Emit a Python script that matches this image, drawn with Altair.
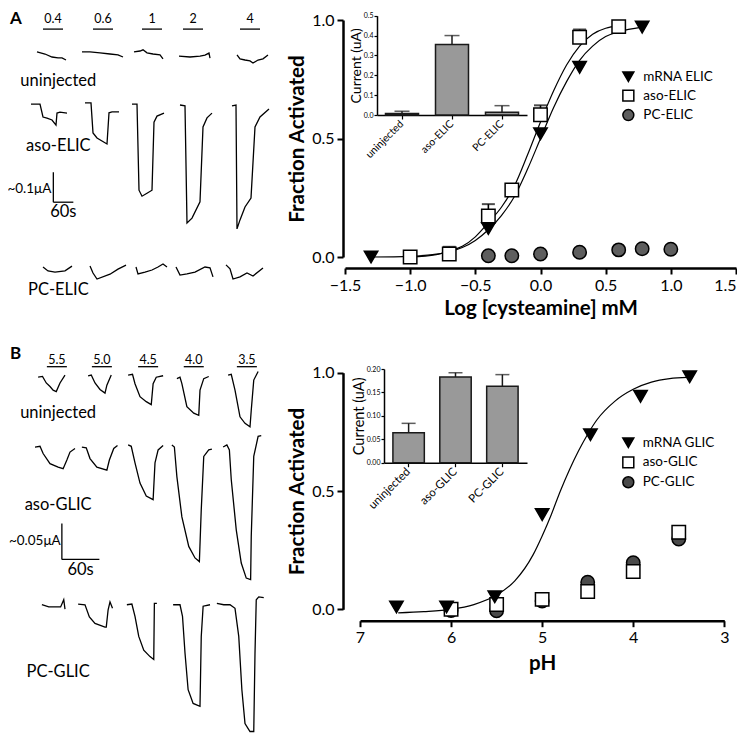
import altair as alt
import pandas as pd

# ---------------- layout (page pixels of the reference -> view pixels) ----------------
W, H = 729, 727
def X(p):
    return p - 8
def Y(p):
    return p - 8

FONT = "Lato"

# ---------------- Panel A : dose response ----------------
elic_series = ["mRNA ELIC", "aso-ELIC", "PC-ELIC"]
elic_mrna_x = [-1.3, -0.4, 0.0, 0.3, 0.78]
elic_mrna_y = [0.0, 0.12, 0.52, 0.80, 0.97]
elic_aso_x = [-1.0, -0.7, -0.4, -0.22, 0.0, 0.3, 0.6]
elic_aso_y = [0.0, 0.013, 0.173, 0.283, 0.60, 0.927, 0.972]
elic_aso_err = [0.0, 0.03, 0.05, 0.0, 0.04, 0.033, 0.018]
elic_pc_x = [-0.4, -0.22, 0.0, 0.3, 0.6, 0.78, 1.0]
elic_pc_y = [0.005, 0.005, 0.013, 0.02, 0.03, 0.035, 0.033]
elic_mrna_fit_x = [-1.3, -1.0, -0.8, -0.7, -0.6, -0.5, -0.4, -0.3, -0.2, -0.1, 0.0, 0.1, 0.2, 0.3, 0.4, 0.5, 0.6, 0.78]
elic_mrna_fit_y = [0.0, 0.003, 0.012, 0.022, 0.04, 0.07, 0.115, 0.175, 0.255, 0.37, 0.50, 0.63, 0.74, 0.83, 0.89, 0.93, 0.95, 0.97]
elic_aso_fit_x = [-1.0, -0.8, -0.7, -0.6, -0.5, -0.4, -0.3, -0.2, -0.1, 0.0, 0.1, 0.2, 0.3, 0.4, 0.5, 0.6]
elic_aso_fit_y = [0.0, 0.01, 0.025, 0.045, 0.085, 0.145, 0.21, 0.30, 0.43, 0.57, 0.70, 0.81, 0.89, 0.94, 0.965, 0.975]
# legend anchor (x of symbols / labels, y of the three rows) in panel-A data units
elic_leg_x = [0.674, 0.789]
elic_leg_y = [0.761, 0.681, 0.599]

# inset A
insA_cats = ["uninjected", "aso-ELIC", "PC-ELIC"]
insA_mean = [0.008, 0.355, 0.014]
insA_top = [0.019, 0.40, 0.047]

# ---------------- Panel B : pH response ----------------
glic_series = ["mRNA GLIC", "aso-GLIC", "PC-GLIC"]
glic_mrna_x = [6.6, 6.05, 5.52, 5.0, 4.47, 3.92, 3.38]
glic_mrna_y = [0.01, 0.01, 0.053, 0.40, 0.738, 0.90, 0.983]
glic_aso_x = [6.0, 5.5, 5.0, 4.5, 4.0, 3.5]
glic_aso_y = [0.0, 0.02, 0.042, 0.075, 0.16, 0.326]
glic_pc_x = [6.0, 5.5, 5.0, 4.5, 4.0, 3.5]
glic_pc_y = [-0.005, -0.006, 0.035, 0.114, 0.197, 0.297]
glic_fit_x = [6.58, 6.3, 6.0, 5.75, 5.5, 5.3, 5.1, 5.0, 4.9, 4.8, 4.7, 4.6, 4.5, 4.4, 4.2, 4.0, 3.8, 3.6, 3.4]
glic_fit_y = [-0.015, -0.01, 0.0, 0.02, 0.06, 0.12, 0.23, 0.31, 0.40, 0.50, 0.59, 0.67, 0.74, 0.80, 0.88, 0.93, 0.96, 0.975, 0.98]
glic_leg_x = [4.054, 3.896]
glic_leg_y = [0.704, 0.621, 0.537]

insB_cats = ["uninjected", "aso-GLIC", "PC-GLIC"]
insB_mean = [0.064, 0.183, 0.163]
insB_top = [0.084, 0.192, 0.188]

# ---------------- current traces, panel A (s from trace start, uA from baseline) ----------------
A_conc = ["0.4", "0.6", "1", "2", "4"]
A_rows = ["uninjected", "aso-ELIC", "PC-ELIC"]
a_unin_t = [[0, 24, 45, 63, 75, 87], [0, 24, 54, 84, 108, 123], [0, 18, 27, 39, 57, 78, 87],
            [0, 33, 63, 78, 90, 93], [0, 9, 24, 39, 48, 63, 78, 93]]
a_unin_i = [[0, -0.007, -0.017, -0.02, -0.02, -0.027], [0, 0, -0.003, -0.007, -0.01, -0.017],
            [0, 0.003, 0.007, -0.003, -0.007, -0.01, -0.023], [0, -0.003, 0, 0.003, 0.01, -0.007],
            [0, -0.013, -0.017, -0.02, -0.027, -0.017, -0.013, 0]]
a_aso_t = [[0, 27, 36, 48, 63, 75, 78, 87, 108], [0, 18, 24, 36, 66, 72, 81, 102],
           [0, 15, 21, 30, 45, 60, 66, 75, 96], [0, 15, 21, 36, 60, 69, 81, 96],
           [0, 12, 15, 24, 39, 57, 69, 84, 111]]
a_aso_i = [[0, 0, -0.043, -0.047, -0.053, -0.07, -0.03, -0.027, -0.03],
           [0, 0, -0.1, -0.117, -0.137, -0.033, -0.03, -0.03],
           [0, 0, -0.287, -0.307, -0.297, -0.287, -0.06, -0.04, -0.03],
           [0, -0.003, -0.393, -0.377, -0.323, -0.073, -0.043, -0.027],
           [0, 0.003, -0.41, -0.38, -0.337, -0.307, -0.07, -0.037, -0.01]]
a_pc_t = [[0, 15, 36, 66, 87], [0, 9, 21, 60, 84, 108], [0, 6, 27, 48, 66, 81, 93],
          [0, 12, 33, 57, 87, 102, 111], [0, 12, 21, 42, 63, 81, 111]]
a_pc_i = [[0, -0.013, -0.017, -0.013, 0.003], [0, -0.023, -0.043, -0.027, -0.01, 0.003],
          [0, -0.023, -0.017, -0.01, 0, 0.01, 0], [0, -0.027, -0.023, -0.017, 0, -0.003, -0.033],
          [0, -0.013, -0.047, -0.04, -0.027, -0.037, -0.01]]
a_start = [[111, 246, 402, 537, 711], [93, 255, 396, 540, 696], [129, 270, 408, 528, 678]]
a_base = [[-0.173, -0.173, -0.173, -0.187, -0.183], [-0.347, -0.343, -0.347, -0.35, -0.353],
          [-0.89, -0.887, -0.89, -0.89, -0.883]]
a_bar_start = [129, 279, 426, 549, 720]

# ---------------- current traces, panel B ----------------
B_conc = ["5.5", "5.0", "4.5", "4.0", "3.5"]
B_rows = ["uninjected", "aso-GLIC", "PC-GLIC"]
b_unin_t = [[0, 7, 13, 19, 24, 29, 35, 43], [0, 5, 11, 19, 27, 30, 37], [0, 7, 11, 19, 29, 37, 40, 45, 56],
            [0, 5, 8, 16, 27, 35, 37, 43, 51], [0, 5, 11, 19, 27, 35, 37, 41, 48]]
b_unin_i = [[0, 0.001, -0.008, -0.013, -0.018, -0.02, -0.008, 0.003],
            [0, 0.001, -0.01, -0.019, -0.024, -0.013, 0.001],
            [0, 0.001, -0.012, -0.03, -0.037, -0.041, -0.012, -0.003, -0.001],
            [0, 0.002, -0.007, -0.039, -0.048, -0.051, -0.016, 0, 0.003],
            [0, 0.001, -0.021, -0.058, -0.067, -0.072, -0.049, -0.007, 0.005]]
b_aso_t = [[0, 8, 13, 24, 37, 45, 51, 56, 64], [0, 7, 13, 24, 40, 44, 51, 57], [0, 5, 11, 19, 29, 40, 43, 48, 56],
           [0, 4, 8, 16, 27, 37, 44, 47, 51, 59, 64], [0, 6, 10, 13, 21, 29, 37, 44, 45, 49, 56, 61]]
b_aso_i = [[0, 0.001, -0.009, -0.023, -0.028, -0.03, -0.018, -0.007, -0.002],
           [0, -0.001, -0.016, -0.028, -0.032, -0.018, -0.002, 0.002],
           [0, -0.002, -0.025, -0.053, -0.071, -0.076, -0.025, -0.007, -0.001],
           [0, -0.003, -0.044, -0.1, -0.141, -0.157, -0.162, -0.09, -0.016, -0.007, -0.006],
           [0, 0.003, -0.004, -0.045, -0.115, -0.161, -0.182, -0.184, -0.124, -0.013, 0.015, 0.016]]
b_pc_t = [[0, 11, 24, 30, 35, 37], [0, 11, 18, 27, 43, 45, 48, 51, 55], [0, 8, 13, 19, 27, 37, 43, 44, 48],
          [0, 11, 15, 19, 24, 32, 43, 45, 48, 59], [0, 11, 21, 29, 35, 40, 45, 53, 59, 61, 63, 67, 75]]
b_pc_i = [[0, -0.003, -0.003, -0.003, 0.007, -0.006],
          [0, -0.001, -0.018, -0.027, -0.032, -0.032, -0.008, 0.003, -0.006],
          [0, 0.001, -0.016, -0.044, -0.063, -0.072, -0.076, 0.002, 0.002],
          [0, 0, -0.016, -0.067, -0.118, -0.137, -0.141, -0.044, -0.002, 0],
          [0, -0.002, -0.002, -0.007, -0.046, -0.12, -0.167, -0.178, -0.178, -0.069, 0.005, 0.009, 0.008]]
b_start = [[61, 141, 205, 283, 365], [56, 131, 205, 275, 357], [67, 125, 203, 277, 347]]
b_base = [[-0.010, -0.008, -0.007, -0.012, -0.007], [-0.107, -0.107, -0.104, -0.104, -0.107],
          [-0.326, -0.325, -0.326, -0.326, -0.324]]
b_bar_start = [75, 147, 221, 294, 379]


def trace_frame(rows, concs, tl, il, starts, bases):
    recs = []
    for r in range(3):
        for c in range(5):
            for k, (t, i) in enumerate(zip(tl[r][c], il[r][c])):
                recs.append({"trace": f"{rows[r]} {concs[c]}", "k": k,
                             "t": starts[r][c] + t, "I": bases[r][c] + i})
    return pd.DataFrame(recs)


def trace_panel(df, sx, sy, conc, bar_start, bar_len, bar_y, lab_y, labels, scalebar, letter):
    enc_x = lambda f: alt.X(f, scale=sx, axis=None)
    enc_y = lambda f: alt.Y(f, scale=sy, axis=None)
    lines = alt.Chart(df).mark_line(color="black", strokeWidth=1.3).encode(
        x=enc_x("t:Q"), y=enc_y("I:Q"), detail="trace:N", order="k:Q")
    bars_df = pd.DataFrame({"t0": bar_start, "t1": [b + bar_len for b in bar_start],
                            "tc": [b + bar_len / 2 for b in bar_start],
                            "y": [bar_y] * 5, "ly": [lab_y] * 5, "lab": conc})
    bars = alt.Chart(bars_df).mark_rule(color="black", strokeWidth=1.3).encode(
        x=enc_x("t0:Q"), x2="t1:Q", y=enc_y("y:Q"))
    blabs = alt.Chart(bars_df).mark_text(font=FONT, fontSize=12.5, baseline="middle").encode(
        x=enc_x("tc:Q"), y=enc_y("ly:Q"), text="lab:N")
    lab_df = pd.DataFrame(labels)
    labs_c = alt.Chart(lab_df[lab_df["al"] == "center"]).mark_text(
        font=FONT, fontSize=16.5, baseline="middle", align="center").encode(
        x=enc_x("t:Q"), y=enc_y("I:Q"), text="txt:N")
    labs_r = alt.Chart(lab_df[lab_df["al"] == "right"]).mark_text(
        font=FONT, fontSize=13.5, baseline="middle", align="right").encode(
        x=enc_x("t:Q"), y=enc_y("I:Q"), text="txt:N")
    (sx0, sy0, sdt, sdi) = scalebar
    sb_v = alt.Chart(pd.DataFrame({"t": [sx0], "a": [sy0], "b": [sy0 - sdi]})).mark_rule(
        color="black", strokeWidth=1.3).encode(x=enc_x("t:Q"), y=enc_y("a:Q"), y2="b:Q")
    sb_h = alt.Chart(pd.DataFrame({"a": [sx0], "b": [sx0 + sdt], "I": [sy0 - sdi]})).mark_rule(
        color="black", strokeWidth=1.3).encode(x=enc_x("a:Q"), x2="b:Q", y=enc_y("I:Q"))
    let = alt.Chart(pd.DataFrame(letter)).mark_text(
        font=FONT, fontSize=17, fontWeight="bold", align="left", baseline="middle").encode(
        x=enc_x("t:Q"), y=enc_y("I:Q"), text="txt:N")
    return alt.layer(lines, bars, blabs, labs_c, labs_r, sb_v, sb_h, let)


# ---- traces A
sA_tx = alt.Scale(domain=[0, 870], range=[X(0), X(290)], nice=False, zero=False)
sA_ty = alt.Scale(domain=[-1.1, 0.0], range=[Y(330), Y(0)], nice=False, zero=False)
tracesA = trace_panel(
    trace_frame(A_rows, A_conc, [a_unin_t, a_aso_t, a_pc_t], [a_unin_i, a_aso_i, a_pc_i], a_start, a_base),
    sA_tx, sA_ty, A_conc, a_bar_start, 60, -0.097, -0.063,
    {"t": [175, 175, 175, 154, 190], "I": [-0.269, -0.486, -0.967, -0.63, -0.706],
     "txt": ["uninjected", "aso-ELIC", "PC-ELIC", "~0.1\u03bcA", "60s"],
     "al": ["center", "center", "center", "right", "center"]},
    (160, -0.574, 60, 0.1),
    {"t": [30], "I": [-0.062], "txt": ["A"]})

# ---- traces B
sB_tx = alt.Scale(domain=[0, 464], range=[X(0), X(290)], nice=False, zero=False)
sB_ty = alt.Scale(domain=[-0.518, 0.0], range=[Y(743), Y(370)], nice=False, zero=False)
tracesB = trace_panel(
    trace_frame(B_rows, B_conc, [b_unin_t, b_aso_t, b_pc_t], [b_unin_i, b_aso_i, b_pc_i], b_start, b_base),
    sB_tx, sB_ty, B_conc, b_bar_start, 32, 0.0046, 0.014,
    {"t": [93, 93, 93, 97, 129], "I": [-0.060, -0.188, -0.42, -0.238, -0.278],
     "txt": ["uninjected", "aso-GLIC", "PC-GLIC", "~0.05\u03bcA", "60s"],
     "al": ["center", "center", "center", "right", "center"]},
    (99, -0.213, 60, 0.05),
    {"t": [16], "I": [0.022], "txt": ["B"]})


# ---------------- main dose response plots ----------------
def main_plot(series, pts, fits, errs, sx, sy, ax_x, ax_y, fills, leg_x, leg_y):
    px, py, ps = [], [], []
    for name, xs, ys in pts:
        px += xs
        py += ys
        ps += [name] * len(xs)
    pdf = pd.DataFrame({"x": px, "y": py, "series": ps})
    shape_sc = alt.Scale(domain=series, range=["triangle-down", "square", "circle"])
    fill_sc = alt.Scale(domain=series, range=fills)
    layers = []
    for fx, fy in fits:
        layers.append(alt.Chart(pd.DataFrame({"x": fx, "y": fy, "k": list(range(len(fx)))})).mark_line(
            color="black", strokeWidth=1.2, interpolate="monotone").encode(
            x=alt.X("x:Q", scale=sx, axis=ax_x), y=alt.Y("y:Q", scale=sy, axis=ax_y), order="k:Q"))
    if errs is not None:
        ex, ey, ee = errs
        edf = pd.DataFrame({"x": ex, "y": ey, "top": [a + b for a, b in zip(ey, ee)]})
        edf = edf[[e > 0 for e in ee]]
        layers.append(alt.Chart(edf).mark_rule(color="black", strokeWidth=1.6).encode(
            x=alt.X("x:Q", scale=sx, axis=ax_x), y=alt.Y("y:Q", scale=sy, axis=ax_y), y2="top:Q"))
        layers.append(alt.Chart(edf).mark_tick(color="black", orient="horizontal", size=13, thickness=2).encode(
            x=alt.X("x:Q", scale=sx, axis=ax_x), y=alt.Y("top:Q", scale=sy, axis=ax_y)))
    layers.append(alt.Chart(pdf).mark_point(filled=True, size=180, stroke="black", strokeWidth=1.5,
                                            opacity=1).encode(
        x=alt.X("x:Q", scale=sx, axis=ax_x), y=alt.Y("y:Q", scale=sy, axis=ax_y),
        shape=alt.Shape("series:N", scale=shape_sc, legend=None),
        fill=alt.Fill("series:N", scale=fill_sc, legend=None)))
    # legend (symbols + labels) drawn with the same shape / fill scales
    ldf = pd.DataFrame({"series": series, "sx": [leg_x[0]] * 3, "tx": [leg_x[1]] * 3, "y": leg_y})
    layers.append(alt.Chart(ldf).mark_point(filled=True, size=120, stroke="black", strokeWidth=1.5,
                                            opacity=1).encode(
        x=alt.X("sx:Q", scale=sx, axis=ax_x), y=alt.Y("y:Q", scale=sy, axis=ax_y),
        shape=alt.Shape("series:N", scale=shape_sc, legend=None),
        fill=alt.Fill("series:N", scale=fill_sc, legend=None)))
    layers.append(alt.Chart(ldf).mark_text(font=FONT, fontSize=13.5, align="left", baseline="middle",
                                           color="black").encode(
        x=alt.X("tx:Q", scale=sx, axis=ax_x), y=alt.Y("y:Q", scale=sy, axis=ax_y), text="series:N"))
    return alt.layer(*layers)


def big_axis(orient, offset, values, fmt, title, tpad, label_align=None):
    kw = {}
    if label_align is not None:
        kw["labelAlign"] = label_align
    return alt.Axis(orient=orient, offset=offset, values=values, format=fmt, title=title,
                    titleFont=FONT, titleFontSize=20.5, titleFontWeight="bold", titleColor="black",
                    titlePadding=tpad, labelFont=FONT, labelFontSize=16, labelColor="black",
                    labelPadding=3, labelFlush=False, labelOverlap=False, domainColor="black",
                    domainWidth=2.5, tickColor="black", tickWidth=2, tickSize=6, grid=False, **kw)


axA_x = big_axis("bottom", Y(268) - H, [-1.5, -1.0, -0.5, 0.0, 0.5, 1.0, 1.5], ".1f", "Log [cysteamine] mM", 5,
                 {"condition": {"test": "datum.value >= 1.5", "value": "right"}, "value": "center"})
axA_y = big_axis("left", -X(343), [0.0, 0.5, 1.0], ".1f", "Fraction Activated", 4)
sA_x = alt.Scale(domain=[-1.5, 1.5], range=[X(345), X(736)], nice=False, zero=False)
sA_y = alt.Scale(domain=[0, 1], range=[Y(257), Y(20)], nice=False, zero=False)
plotA = main_plot(
    elic_series,
    [("PC-ELIC", elic_pc_x, elic_pc_y), ("aso-ELIC", elic_aso_x, elic_aso_y), ("mRNA ELIC", elic_mrna_x, elic_mrna_y)],
    [(elic_mrna_fit_x, elic_mrna_fit_y), (elic_aso_fit_x, elic_aso_fit_y)],
    (elic_aso_x, elic_aso_y, elic_aso_err), sA_x, sA_y, axA_x, axA_y,
    ["#000000", "#ffffff", "#5e5e5e"], elic_leg_x, elic_leg_y)

axB_x = big_axis("bottom", Y(620.7) - H, [7, 6, 5, 4, 3], "d", "pH", 8)
axB_y = big_axis("left", -X(343), [0.0, 0.5, 1.0], ".1f", "Fraction Activated", 4)
sB_x = alt.Scale(domain=[3, 7], range=[X(724.3), X(360)], nice=False, zero=False)
sB_y = alt.Scale(domain=[0, 1], range=[Y(609.3), Y(372.7)], nice=False, zero=False)
plotB = main_plot(
    glic_series,
    [("PC-GLIC", glic_pc_x, glic_pc_y), ("aso-GLIC", glic_aso_x, glic_aso_y), ("mRNA GLIC", glic_mrna_x, glic_mrna_y)],
    [(glic_fit_x, glic_fit_y)], None, sB_x, sB_y, axB_x, axB_y,
    ["#000000", "#ffffff", "#4a4a4a"], glic_leg_x, glic_leg_y)


# ---------------- insets ----------------
def inset(cats, mean, top, x0, x1, y0, y1, ymax, yvals, yfmt, pin, pout, capw, lfs, tfs):
    sx = alt.Scale(domain=cats, range=[X(x0), X(x1)], paddingInner=pin, paddingOuter=pout)
    sy = alt.Scale(domain=[0, ymax], range=[Y(y0), Y(y1)], nice=False, zero=False)
    axx = alt.Axis(orient="bottom", offset=Y(y0) - H, title=None, labelAngle=-45, labelAlign="right",
                   labelBaseline="middle", labelFont=FONT, labelFontSize=lfs, labelColor="black",
                   labelPadding=3, domainColor="black", domainWidth=1.5, tickColor="black",
                   tickWidth=1.2, tickSize=4, grid=False)
    axy = alt.Axis(orient="left", offset=-X(x0), title="Current (uA)", titleFont=FONT,
                   titleFontSize=tfs, titleFontWeight="normal", titleColor="black", titlePadding=0,
                   values=yvals, format=yfmt, labelFont=FONT, labelFontSize=7, labelColor="black",
                   labelPadding=1, domainColor="black", domainWidth=1.5, tickColor="black",
                   tickWidth=1.2, tickSize=3, grid=False, labelFlush=False)
    df = pd.DataFrame({"cat": cats, "m": mean, "top": top})
    bars = alt.Chart(df).mark_bar(color="#999999", stroke="#1a1a1a", strokeWidth=1.5).encode(
        x=alt.X("cat:N", scale=sx, axis=axx, sort=cats),
        y=alt.Y("m:Q", scale=sy, axis=axy))
    er = alt.Chart(df).mark_rule(color="#1a1a1a", strokeWidth=1.5).encode(
        x=alt.X("cat:N", scale=sx, axis=axx, sort=cats), y=alt.Y("m:Q", scale=sy, axis=axy), y2="top:Q")
    cap = alt.Chart(df).mark_tick(color="#1a1a1a", orient="horizontal", size=capw, thickness=1.5).encode(
        x=alt.X("cat:N", scale=sx, axis=axx, sort=cats), y=alt.Y("top:Q", scale=sy, axis=axy))
    return alt.layer(er, bars, cap)


insetA = inset(insA_cats, insA_mean, insA_top, 377, 527, 115, 15.7, 0.5,
               [0, 0.1, 0.2, 0.3, 0.4, 0.5], ".1f", 0.34, 0.17, 15, 10.5, 14)
insetB = inset(insB_cats, insB_mean, insB_top, 384, 527, 462.7, 369, 0.2,
               [0, 0.05, 0.1, 0.15, 0.2], ".2f", 0.33, 0.19, 14, 11.5, 14.5)

chart = alt.layer(tracesA, tracesB, plotA, plotB, insetA, insetB).resolve_scale(
    x="independent", y="independent", shape="independent", fill="independent"
).resolve_axis(x="independent", y="independent").properties(
    width=W, height=H, padding=0, autosize=alt.AutoSizeParams(type="none"), background="white"
).configure_view(stroke=None)

chart.save("out.html", embed_options={"renderer": "svg", "actions": False})
